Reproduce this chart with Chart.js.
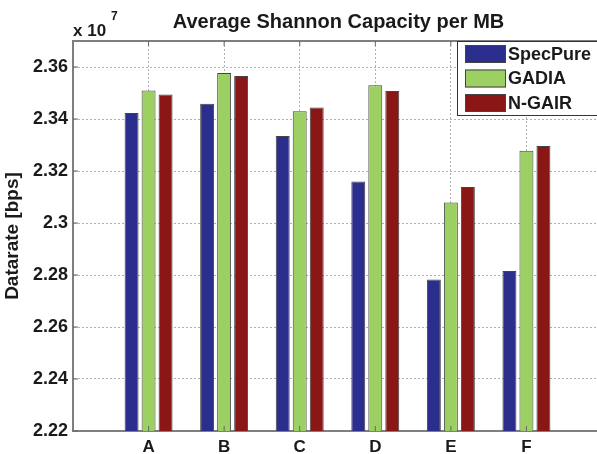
<!DOCTYPE html>
<html>
<head>
<meta charset="utf-8">
<script src="https://cdn.jsdelivr.net/npm/chart.js@4/dist/chart.umd.min.js"></script>
<style>
  html, body { margin: 0; padding: 0; background: #fff; overflow: hidden; }
  #wrap { width: 604px; height: 454px; }
</style>
</head>
<body>
<div id="wrap"><canvas id="capacityChart" width="604" height="454"></canvas></div>
<script>
// Data (values in units of 10^7 bps)
const categories = ["A", "B", "C", "D", "E", "F"];
const specPure = [2.3423, 2.3459, 2.3335, 2.3160, 2.2783, 2.2815];
const gadia = [2.3510, 2.3577, 2.3430, 2.3530, 2.3079, 2.3278];
const nGair = [2.3494, 2.3565, 2.3444, 2.3508, 2.3138, 2.3296];
const yTicks = [2.22, 2.24, 2.26, 2.28, 2.3, 2.32, 2.34, 2.36];

const FONT = "'Liberation Sans', Arial, sans-serif";
const TEXT = "#1a1a1a";
const AXIS = "#7f7f7f";

function toPoints(values) {
  return values.map((v, i) => ({ x: i + 1, y: v }));
}

// Title, exponent label, box outline, inner tick marks and legend
const decorPlugin = {
  id: "decor",
  afterDraw(chart) {
    const ctx = chart.ctx;
    const area = chart.chartArea;
    const xs = chart.scales.x;
    const ys = chart.scales.y;
    ctx.save();

    // top border of the axes box
    ctx.strokeStyle = AXIS;
    ctx.lineWidth = 2;
    ctx.beginPath();
    ctx.moveTo(area.left, area.top);
    ctx.lineTo(area.right + 2, area.top);
    ctx.stroke();

    // inner tick marks
    ctx.lineWidth = 1;
    ctx.strokeStyle = "#666";
    ctx.beginPath();
    for (let i = 1; i <= categories.length; i++) {
      const px = xs.getPixelForValue(i);
      ctx.moveTo(px, area.bottom);
      ctx.lineTo(px, area.bottom - 5);
      ctx.moveTo(px, area.top);
      ctx.lineTo(px, area.top + 5);
    }
    yTicks.forEach((v) => {
      const py = ys.getPixelForValue(v);
      ctx.moveTo(area.left, py);
      ctx.lineTo(area.left + 5, py);
    });
    ctx.stroke();

    // title
    ctx.fillStyle = TEXT;
    ctx.font = "bold 20px " + FONT;
    ctx.textAlign = "center";
    ctx.textBaseline = "middle";
    ctx.fillText("Average Shannon Capacity per MB", (area.left + area.right) / 2 + 1, 22);

    // exponent label
    ctx.textAlign = "left";
    ctx.textBaseline = "alphabetic";
    ctx.font = "bold 17px " + FONT;
    ctx.fillText("x 10", 73, 36);
    ctx.font = "bold 12px " + FONT;
    ctx.fillText("7", 111, 20);

    // legend box
    const lx = 457, ly = 41, lw = 160, lh = 74;
    ctx.fillStyle = "#fff";
    ctx.fillRect(lx, ly, lw, lh);
    ctx.strokeStyle = "#333";
    ctx.lineWidth = 1;
    ctx.strokeRect(lx + 0.5, ly + 0.5, lw, lh);
    ctx.font = "bold 18px " + FONT;
    ctx.textBaseline = "middle";
    chart.data.datasets.forEach((ds, i) => {
      const ry = ly + 4 + i * 24.5;
      ctx.fillStyle = ds.backgroundColor;
      ctx.fillRect(465, ry, 41, 18);
      ctx.strokeStyle = "#444";
      ctx.strokeRect(465.5, ry + 0.5, 40, 17);
      ctx.fillStyle = TEXT;
      ctx.fillText(ds.label, 508, ry + 10);
    });
    ctx.restore();
  }
};

const ctx = document.getElementById("capacityChart").getContext("2d");
const capacityChart = new Chart(ctx, {
  type: "bar",
  data: {
    datasets: [
      { label: "SpecPure", data: toPoints(specPure), backgroundColor: "#2b2e8c" },
      { label: "GADIA", data: toPoints(gadia), backgroundColor: "#9dd062" },
      { label: "N-GAIR", data: toPoints(nGair), backgroundColor: "#8a1616" },
    ],
  },
  options: {
    responsive: false,
    devicePixelRatio: 1,
    animation: false,
    layout: { padding: { left: 0, right: 2, top: 41, bottom: 0 } },
    datasets: {
      bar: {
        borderColor: "#444",
        borderWidth: 1,
        categoryPercentage: 0.675,
        barPercentage: 0.82,
      },
    },
    plugins: {
      legend: { display: false },
      title: { display: false },
      tooltip: { enabled: false },
    },
    scales: {
      x: {
        type: "linear",
        min: 0,
        max: categories.length + 1,
        offset: false,
        afterBuildTicks: (s) => { s.ticks = categories.map((c, i) => ({ value: i + 1 })); },
        afterFit: (s) => { s.height = 23; },
        ticks: {
          callback: (v) => categories[v - 1] || "",
          font: { family: FONT, size: 17, weight: "bold" },
          color: TEXT,
          padding: 6,
          maxRotation: 0,
        },
        grid: { color: "#b0b0b0", lineWidth: 1, drawTicks: false, offset: false },
        border: { color: AXIS, width: 2, dash: [2, 2] },
      },
      y: {
        min: 2.22,
        max: 2.37,
        afterBuildTicks: (s) => { s.ticks = yTicks.map((v) => ({ value: v })); },
        afterFit: (s) => { s.width = 73; },
        ticks: {
          callback: (v) => String(+v.toFixed(2)),
          font: { family: FONT, size: 18, weight: "bold" },
          color: TEXT,
          padding: 5,
        },
        grid: { color: "#b0b0b0", lineWidth: 1, drawTicks: false },
        border: { color: AXIS, width: 2, dash: [2, 2] },
        title: {
          display: true,
          text: "Datarate [bps]",
          font: { family: FONT, size: 19, weight: "bold" },
          color: TEXT,
          padding: { top: 1, bottom: 0 },
        },
      },
    },
  },
  plugins: [decorPlugin],
});
</script>
</body>
</html>
